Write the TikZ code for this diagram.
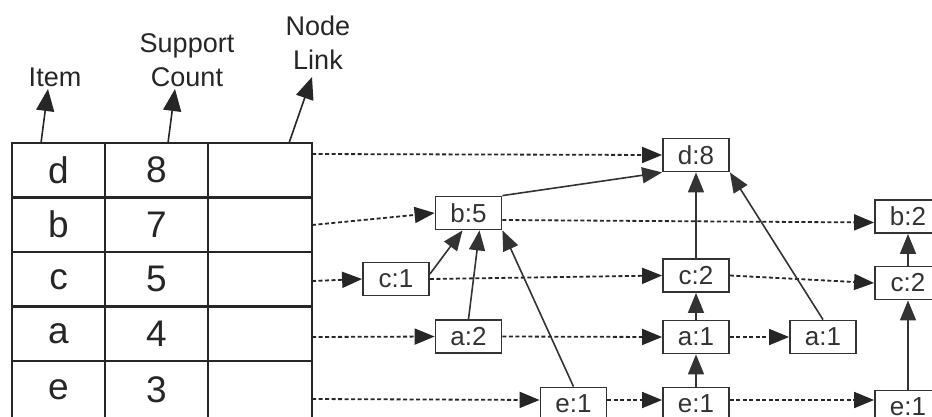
\documentclass[tikz,border=0pt]{standalone}
\usepackage{fontspec}
\setmainfont{Liberation Sans}
\usetikzlibrary{arrows.meta}
\begin{document}
\begin{tikzpicture}[x=1pt,y=-1pt,
 cell/.style={draw=black!85, line width=2.2pt, rectangle, inner sep=0pt, minimum height=54.5pt, text=black!85, font=\fontsize{37}{40}\selectfont},
 tn/.style={draw=black!80, line width=1.8pt, rectangle, inner sep=0pt, minimum width=66pt, minimum height=33pt, text=black!80, font=\fontsize{26}{28}\selectfont, fill=white},
 lnk/.style={draw=black!85, line width=1.8pt, dash pattern=on 4pt off 2.5pt, -{Triangle[length=20pt,width=16pt]}},
 par/.style={draw=black!80, line width=1.6pt, -{Triangle[length=20pt,width=16pt]}},
 hdr/.style={font=\fontsize{27}{34}\selectfont, align=center, inner sep=0pt, anchor=south, text=black!85},
 harrow/.style={draw=black!85, line width=1.6pt, -{Triangle[length=22pt,width=18pt]}},
]
\useasboundingbox (0,0) rectangle (932,416);
\clip (0,0) rectangle (932,416);
\fill[white] (0,0) rectangle (932,416);

% header labels
\node[hdr] (item) at (55,87) {Item};
\node[hdr] (supp) at (187,87) {Support\\Count};
\node[hdr] (nlink) at (318,70) {Node\\Link};

% table
\foreach \r/\it/\cnt/\y/\h in {d/d/8/170.25/54.5, b/b/7/224.75/54.5, c/c/5/279.25/54.5, a/a/4/333.75/54.5, e/e/3/390/58}{
  \node[cell, minimum width=93pt, minimum height=\h pt] (i\r) at (58.5,\y) {\it};
  \node[cell, minimum width=103pt, minimum height=\h pt] (s\r) at (156.5,\y) {\cnt};
  \node[cell, minimum width=104pt, minimum height=\h pt] (l\r) at (260,\y) {};
}

% header arrows
\coordinate (hi0) at (41,143);  \coordinate (hi1) at (48,89);
\coordinate (hs0) at (168,143); \coordinate (hs1) at (175,89);
\coordinate (hn0) at (289,143); \coordinate (hn1) at (312,77);
\draw[harrow] (hi0) -- (hi1);
\draw[harrow] (hs0) -- (hs1);
\draw[harrow] (hn0) -- (hn1);

% tree nodes
\node[tn] (d8) at (696,155) {d:8};
\node[tn] (b5) at (468.5,213) {b:5};
\node[tn] (c1) at (396,279) {c:1};
\node[tn] (a2) at (468.5,336.5) {a:2};
\node[tn] (e1a) at (573.5,404) {e:1};
\node[tn] (c2) at (696,275.5) {c:2};
\node[tn] (a1) at (696,337) {a:1};
\node[tn] (a1r) at (823,337) {a:1};
\node[tn] (e1b) at (696,404) {e:1};
\node[tn] (b2) at (908,216.5) {b:2};
\node[tn] (c2r) at (908,283) {c:2};
\node[tn] (e1c) at (908,407) {e:1};

% link starts at the table
\coordinate (ld0) at (312,154);
\coordinate (lb0) at (312,225);
\coordinate (lc0) at (312,281);
\coordinate (la0) at (312,337);
\coordinate (le0) at (312,399);

% node links (dashed)
\draw[lnk] (ld0) -- (d8.west);
\draw[lnk] (lb0) -- (b5.west);
\draw[lnk] (lc0) -- (c1.west);
\draw[lnk] (la0) -- (a2.west);
\draw[lnk] (le0) -- ([yshift=4pt]e1a.west);
\draw[lnk] ([yshift=-7pt]b5.east) -- ([yshift=-6pt]b2.west);
\draw[lnk] (c1.east) -- (c2.west);
\draw[lnk] (c2.east) -- (c2r.west);
\draw[lnk] (a2.east) -- (a1.west);
\draw[lnk] (a1.east) -- (a1r.west);
\draw[lnk] ([yshift=4pt]e1a.east) -- ([yshift=4pt]e1b.west);
\draw[lnk] ([yshift=4pt]e1b.east) -- ([yshift=7pt]e1c.west);

% parent links (solid)
\draw[par] (b5.north east) -- (d8.south west);
\draw[par] ([yshift=5pt]c1.east) -- ([xshift=-6pt]b5.south);
\draw[par] (a2.north) -- ([xshift=11pt]b5.south);
\draw[par] (e1a.north) -- (b5.south east);
\draw[par] (c2.north) -- (d8.south);
\draw[par] (a1.north) -- (c2.south);
\draw[par] (e1b.north) -- (a1.south);
\draw[par] (a1r.north) -- (d8.south east);
\draw[par] (c2r.north) -- (b2.south);
\draw[par] (e1c.north) -- (c2r.south);
\end{tikzpicture}
\end{document}
